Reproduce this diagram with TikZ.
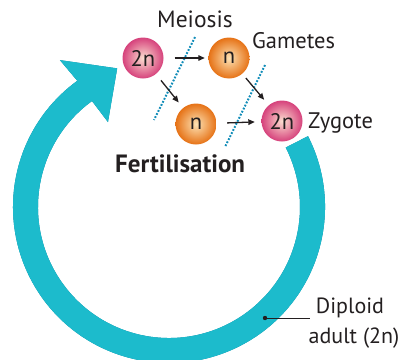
\documentclass[tikz,border=0pt]{standalone}
\usepackage{fontspec}
\setmainfont{PT Sans}
\usetikzlibrary{arrows.meta,calc}
\definecolor{ringlight}{RGB}{28,187,204}
\definecolor{ringdark}{RGB}{0,125,155}
\definecolor{dotblue}{RGB}{16,140,184}
\definecolor{pinkout}{RGB}{214,66,124}
\definecolor{pinkin}{RGB}{252,222,208}
\definecolor{orout}{RGB}{230,114,22}
\definecolor{orin}{RGB}{253,226,180}
\definecolor{txt}{RGB}{35,31,32}
\tikzset{
  lbl/.style={inner sep=0pt, text=txt, font=\fontsize{22.5}{26}\selectfont},
  diploid/.style={circle, minimum size=41pt, inner sep=0pt, shading=radial, inner color=pinkin, outer color=pinkout, text=txt, font=\fontsize{22.5}{26}\selectfont},
  haploid/.style={circle, minimum size=41pt, inner sep=0pt, shading=radial, inner color=orin, outer color=orout, text=txt, font=\fontsize{22.5}{26}\selectfont},
  arr/.style={-{Triangle[length=6.5pt,width=5.5pt]}, line width=1.3pt, txt},
  sep/.style={dotblue, line width=2pt, dash pattern=on 1.8pt off 1.6pt},
}
\begin{document}
\begin{tikzpicture}[x=1pt,y=-1pt]
\useasboundingbox (0,0) rectangle (401,359);
\coordinate (C) at (169,207);
% ring shadow
\fill[ringdark, shift={(-3.5,2.5)}] ($(C)+(-27:156)$) arc[start angle=-27, end angle=234, radius=156]
  -- ($(C)+(233.4:183)$) -- ($(C)+(249.5:148)$) -- ($(C)+(234.3:104.6)$)
  -- ($(C)+(234:131)$) arc[start angle=234, end angle=-27, radius=131] -- cycle;
% ring
\fill[ringlight] ($(C)+(-27:156)$) arc[start angle=-27, end angle=234, radius=156]
  -- ($(C)+(233.4:183)$) -- ($(C)+(249.5:148)$) -- ($(C)+(234.3:104.6)$)
  -- ($(C)+(234:131)$) arc[start angle=234, end angle=-27, radius=131] -- cycle;
% cells
\node[diploid] (p) at (143,58) {2n};
\node[haploid] (g) at (229,58) {n};
\node[haploid] (h) at (196,124) {n};
\node[diploid] (z) at (282,121) {2n};
% separators
\coordinate (s1a) at (195,37); \coordinate (s1b) at (154,120);
\coordinate (s2a) at (265,65); \coordinate (s2b) at (225,147);
\draw[sep] (s1a) -- (s1b);
\draw[sep] (s2a) -- (s2b);
% arrows
\draw[arr, shorten <=11pt, shorten >=3.5pt] (p) -- (g);
\draw[arr, shorten <=8pt, shorten >=7pt] (p) -- (h);
\draw[arr, shorten <=5.5pt, shorten >=7pt] (g) -- (z);
\draw[arr, shorten <=10.5pt, shorten >=6.5pt] (h) -- (z);
% labels
\node[lbl, anchor=base west, font=\fontsize{23.5}{26}\selectfont] (mei) at (157,27) {Meiosis};
\node[lbl, anchor=base west] (gam) at (252,48) {Gametes};
\node[lbl, anchor=base west] (zyg) at (308,128) {Zygote};
\node[lbl, anchor=base west, font=\fontsize{25}{28}\selectfont\bfseries] (fer) at (115,172.5) {Fertilisation};
\node[lbl, anchor=base, font=\fontsize{22}{26}\selectfont] (dip) at (350,313) {Diploid};
\node[lbl, anchor=base, font=\fontsize{22}{26}\selectfont] (adu) at (354,343) {adult (2n)};
% leader
\coordinate (ld) at (265,318);
\coordinate (le) at (310,318);
\draw[txt, line width=0.8pt] (ld) -- (le);
\fill[txt] (ld) circle (2.2pt);
\end{tikzpicture}
\end{document}
